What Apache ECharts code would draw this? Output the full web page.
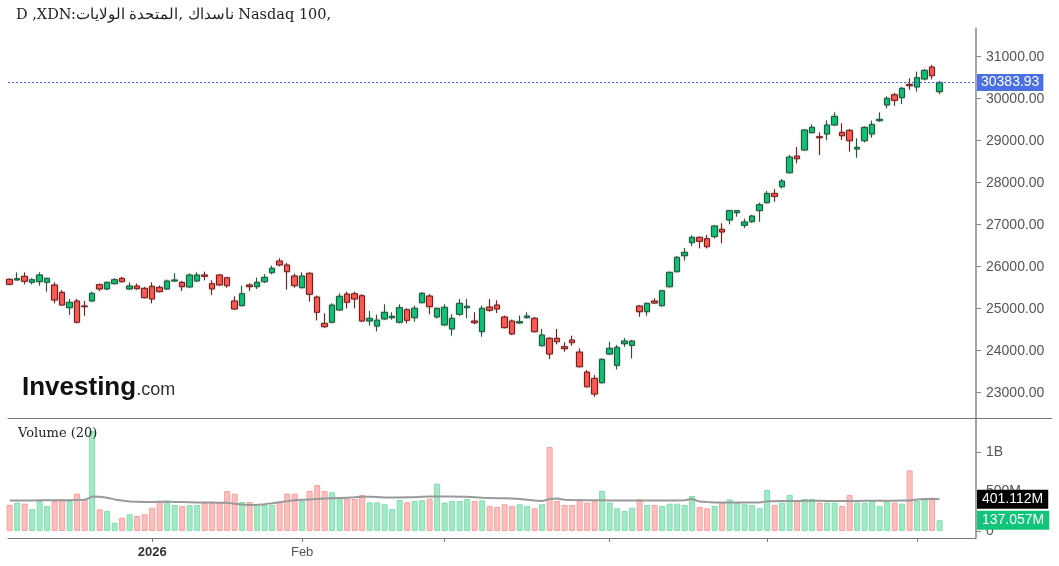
<!DOCTYPE html>
<html>
<head>
<meta charset="utf-8">
<title>Nasdaq 100</title>
<script src="https://cdn.jsdelivr.net/npm/echarts@6/dist/echarts.min.js"></script>
<style>
    html, body { margin: 0; padding: 0; background: #fff; }
    #main { width: 1059px; height: 566px; }
</style>
</head>
<body>
<div id="main"></div>
<script>
// daily candles, index 0 is the one cut off at the left edge
var opens = [25699,25683,25770,25627,25643,25627,25564,25389,25024,25183, 25064,25183,25572,25469,25596,25722,25469,25540,25484,25532,
    25508,25469,25659,25627,25516,25659,25802,25596,25802,25738, 25183,25072,25564,25524,25643,25857,26135,26040,25778,25500,
    25842,25278,24650,24675,24968,25349,25357,25310,24706,24585, 24754,24786,24675,24976,24786,25143,25302,24802,24611,24516,
    24865,25024,24707,24452,25040,25088,24802,24707,24659,24786, 24770,24119,24294,24294,24095,24254,23967,23491,23340,23237,
    23920,23650,24166,24126,25063,24928,25182,25071,25523,25881, 26262,26572,26699,26667,26715,26889,27111,27286,26984,27072,
    27334,27523,27745,27904,28237,28634,28777,29190,29095,29158, 29373,29198,29246,28801,28999,29158,29476,29849,30095,30024,
    30341,30278,30468,30754,30167];
var closes = [25579,25714,25651,25691,25802,25722,25207,25087,25151,24675, 25048,25365,25469,25627,25691,25643,25540,25476,25262,25230,
    25405,25659,25683,25524,25802,25802,25770,25469,25564,25548, 24992,25357,25524,25627,25746,25961,26040,25881,25548,25778,
    25341,24913,24571,25087,25294,25151,25230,24706,24770,24726, 24913,24818,25024,24722,25008,25366,25048,25008,25032,24770,
    25127,25056,24667,25008,24961,24992,24548,24397,24691,24826, 24452,24373,23921,24214,24048,24191,23618,23141,22967,23793,
    24055,24079,24229,24229,24928,25126,25134,25428,25865,26222, 26341,26699,26603,26476,26969,26826,27334,27334,27064,27207,
    27477,27745,27674,28039,28610,28571,29254,29317,29071,29373, 29579,29118,28999,28841,29317,29388,29508,30008,29960,30246,
    30309,30500,30675,30548,30383.93];
var lows = [25560,25675,25580,25580,25548,25405,25127,25071,24849,24651, 24833,25167,25421,25445,25580,25627,25453,25453,25246,25127,
    25389,25453,25643,25421,25500,25643,25675,25325,25548,25500, 24976,25056,25421,25469,25611,25818,26008,25453,25500,25484,
    25167,24722,24547,24651,24944,25008,25008,24690,24595,24460, 24738,24738,24651,24651,24691,25127,24865,24770,24595,24357,
    24834,24770,24627,24333,24929,24897,24532,24373,24643,24770, 24437,24103,23801,24151,23976,24119,23602,23125,22903,23221,
    23896,23554,24094,23816,24809,24833,25111,25047,25508,25865, 26143,26492,26437,26437,26675,26556,27008,27191,26921,27048,
    27072,27507,27546,27864,28221,28460,28761,29174,28658,29015, 29357,29015,28737,28595,28960,29071,29452,29770,29833,29873,
    30214,30167,30437,30460,30103];
var highs = [25720,25865,25865,25722,25865,25738,25627,25437,25230,25230, 25183,25405,25596,25643,25722,25754,25627,25596,25516,25627,
    25548,25691,25842,25659,25834,25865,25881,25675,25818,25754, 25294,25548,25603,25738,25818,26024,26199,26088,25834,25865,
    25865,25310,24889,25127,25365,25405,25405,25341,24944,24857, 25103,24913,25103,25008,25072,25389,25342,25024,25103,24865,
    25230,25230,24913,25072,25230,25199,24834,24738,24834,24913, 24802,24516,24325,24516,24198,24357,24055,23538,23419,23817,
    24213,24134,24301,24253,25087,25142,25246,25444,25881,26254, 26445,26746,26715,26754,26992,27032,27350,27350,27143,27231,
    27524,27801,27848,28086,28658,28849,29277,29388,29198,29484, 29674,29412,29277,29055,29341,29476,29674,30055,30135,30278,
    30484,30643,30706,30802,30421];
// volume in millions
var volumes = [329,359,346,278,380,316,380,401,380,473, 401,1266,274,253,105,169,211,190,211,295,
    371,371,329,316,329,329,359,359,359,506, 473,367,367,338,329,329,371,473,473,380,
    506,582,506,490,414,405,405,456,363,363, 338,278,392,363,380,388,409,599,359,380,
    380,405,380,388,316,304,338,316,338,316, 287,338,1063,380,329,329,401,359,388,506,
    359,287,253,295,401,329,329,316,346,346, 329,443,304,287,316,359,401,359,338,329,
    287,519,329,359,456,380,405,405,359,359, 359,316,456,359,359,380,316,380,359,346,
    768,380,401,401,137.057];
var volumeMA = [385,386,386,387,388,388,389,390,390,392,394,
    436,432,420,400,385, 372,370,368,368,370,372, 368,366,364,362,360,360,358,356,
    345,335,330,332,340, 352,365,378,388,395, 400,405,410,414,418,422,426, 432,432,430,
    425,424,424,426,428, 432,436,438,438,436,434,432,428, 420,418,416,414,410,405,
    395,385,380, 405,410, 395,392,390,390,388,388,387,387,386,386,386,386,386,385,385,385,388,
    405, 372,366,362,360,360,360,360,360,362,
    375,378,380,380,380,382,382,382,380,380,380,380,381,382,382,382,383,384,385,386,
    400,405,408,401.112];

var priceTicks = [23000, 24000, 25000, 26000, 27000, 28000, 29000, 30000, 31000];
var volumeTicks = [0, 500, 1000];
var monthTicks = [19, 39, 58, 80, 101, 121];
var monthLabels = ['2026', 'Feb', '', '', '', ''];

var candleData = [];
var volumeData = [];
var maData = [];
for (var i = 0; i < opens.length; i++) {
    candleData.push([i, opens[i], closes[i], lows[i], highs[i]]);
    var up = closes[i] >= opens[i];
    volumeData.push({
        value: [i, volumes[i] * 1e6],
        itemStyle: up ? {color: '#a2e9c6', borderColor: '#80ddb0'} : {color: '#fdbfbd', borderColor: '#f6a19d'}
    });
    maData.push([i, volumeMA[i] * 1e6]);
}
var lastClose = closes[closes.length - 1];
var lastVolume = volumes[volumes.length - 1];
var lastMA = volumeMA[volumeMA.length - 1];

var axisFont = {color: '#555', fontSize: 14, fontFamily: 'Liberation Sans, Arial, sans-serif'};
var tagFont = 'Liberation Sans, Arial, sans-serif';

var chart = echarts.init(document.getElementById('main'));
var option = {
    animation: false,
    backgroundColor: '#fff',
    title: {
        text: 'D ,XDN:ناسداك ,المتحدة الولايات Nasdaq 100,',
        left: 11, top: 3,
        textStyle: {fontFamily: 'DejaVu Serif', fontSize: 14.5, fontWeight: 'normal', color: '#222'}
    },
    graphic: [
        {type: 'text', left: 22, top: 375, z: 10,
            style: {text: '{a|Investing}{b|.com}',
                rich: {a: {font: 'bold 26px "Liberation Sans", Arial', fill: '#111'},
                       b: {font: '18px "Liberation Sans", Arial', fill: '#333', padding: [5, 0, 0, 0]}}}},
        {type: 'text', left: 18, top: 427, z: 10,
            style: {text: 'Volume (20)', font: '13px "DejaVu Serif"', fill: '#222'}},
        {type: 'line', z: 10, shape: {x1: 976, y1: 418.5, x2: 1052, y2: 418.5}, style: {stroke: '#777', lineWidth: 1}}
    ],
    grid: [
        {left: 8, right: 83, top: 28, height: 390},
        {left: 8, right: 83, top: 418, height: 120}
    ],
    xAxis: [
        {type: 'value', gridIndex: 0, min: -0.22, max: 128.85,
            axisLine: {show: true, onZero: false, lineStyle: {color: '#777', width: 1}},
            axisTick: {show: false}, axisLabel: {show: false}, splitLine: {show: false}},
        {type: 'value', gridIndex: 1, min: -0.22, max: 128.85,
            axisLine: {show: true, onZero: false, lineStyle: {color: '#777', width: 1}},
            axisTick: {show: true, length: 4, customValues: monthTicks, lineStyle: {color: '#777'}},
            axisLabel: {
                customValues: monthTicks, margin: 8, color: '#555', fontSize: 13,
                fontFamily: tagFont,
                formatter: function (v) {
                    var k = monthTicks.indexOf(Math.round(v));
                    if (k === 0) return '{b|' + monthLabels[k] + '}';
                    return k >= 0 ? monthLabels[k] : '';
                },
                rich: {b: {fontWeight: 'bold', color: '#333', fontSize: 13, fontFamily: tagFont}}
            },
            splitLine: {show: false}}
    ],
    yAxis: [
        {type: 'value', gridIndex: 0, position: 'right', min: 22397, max: 31683,
            axisLine: {show: true, onZero: false, lineStyle: {color: '#888', width: 1.5}},
            axisTick: {show: true, length: 5, customValues: priceTicks, lineStyle: {color: '#888'}},
            axisLabel: Object.assign({customValues: priceTicks, margin: 10,
                formatter: function (v) { return v.toFixed(2); }}, axisFont),
            splitLine: {show: false}},
        {type: 'value', gridIndex: 1, position: 'right', min: -88.6e6, max: 1430e6,
            axisLine: {show: true, onZero: false, lineStyle: {color: '#888', width: 1.5}},
            axisTick: {show: true, length: 5, customValues: volumeTicks.map(function (t) { return t * 1e6; }), lineStyle: {color: '#888'}},
            axisLabel: Object.assign({customValues: volumeTicks.map(function (t) { return t * 1e6; }), margin: 10,
                formatter: function (v) {
                    if (v >= 1e9) return (v / 1e9) + 'B';
                    if (v > 0) return (v / 1e6) + 'M';
                    return '0';
                }}, axisFont),
            splitLine: {show: false}}
    ],
    series: [
        {
            type: 'candlestick', xAxisIndex: 0, yAxisIndex: 0,
            data: candleData,
            encode: {x: 0, y: [1, 2, 3, 4]},
            barWidth: 6,
            itemStyle: {color: '#0fc477', borderColor: '#1c5b3b', color0: '#ff5a52', borderColor0: '#7a1c1c', borderWidth: 1,
                shadowBlur: 2, shadowColor: 'rgba(60,60,60,0.35)'},
            markLine: {
                silent: true, symbol: 'none', animation: false,
                lineStyle: {color: '#4466e0', type: [2, 2], width: 1},
                label: {position: 'end', distance: 1, formatter: function () { return lastClose.toFixed(2); },
                    backgroundColor: '#4a70e4', color: '#fff', padding: [2, 4, 1, 4], fontSize: 14,
                    fontFamily: tagFont},
                data: [{yAxis: lastClose}]
            }
        },
        {
            type: 'bar', xAxisIndex: 1, yAxisIndex: 1,
            data: volumeData, barWidth: 6,
            itemStyle: {borderWidth: 1},
            markLine: {
                silent: true, symbol: 'none', animation: false, z: 10,
                lineStyle: {color: 'rgba(0,0,0,0)', width: 0},
                label: {show: true, position: 'end', distance: 1, formatter: function () { return lastVolume.toFixed(3) + 'M'; },
                    backgroundColor: '#12c47a', color: '#fff', padding: [3, 5, 2, 5], fontSize: 14,
                    fontFamily: tagFont},
                data: [{yAxis: lastVolume * 1e6}]
            }
        },
        {
            type: 'line', xAxisIndex: 1, yAxisIndex: 1,
            data: maData, showSymbol: false,
            lineStyle: {color: '#999', width: 2},
            markLine: {
                silent: true, symbol: 'none', animation: false, z: 10,
                lineStyle: {color: 'rgba(0,0,0,0)', width: 0},
                label: {show: true, position: 'end', distance: 1, formatter: function () { return lastMA.toFixed(3) + 'M'; },
                    backgroundColor: '#000', color: '#fff', padding: [3, 5, 2, 5], fontSize: 14,
                    fontFamily: tagFont},
                data: [{yAxis: lastMA * 1e6}]
            }
        }
    ]
};
chart.setOption(option);
</script>
</body>
</html>
